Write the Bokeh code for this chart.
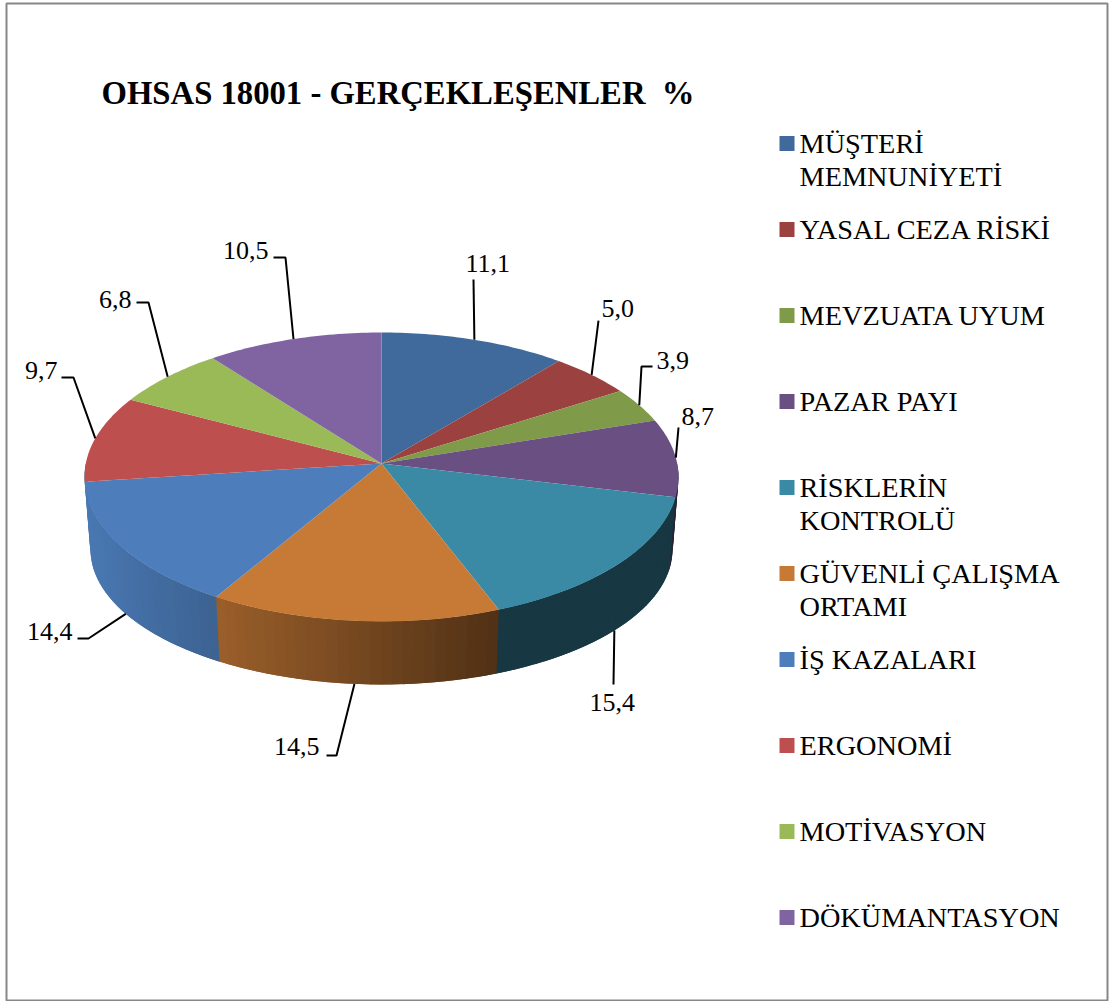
import math
from bokeh.plotting import figure
from bokeh.models import Range1d
from bokeh.core.properties import value
from bokeh.embed import file_html
from bokeh.resources import INLINE

# ---- data ----
title_text = "OHSAS 18001 - GERÇEKLEŞENLER\u00a0 %"
categories = ["MÜŞTERİ\nMEMNUNİYETİ", "YASAL CEZA RİSKİ", "MEVZUATA UYUM", "PAZAR PAYI",
              "RİSKLERİN\nKONTROLÜ", "GÜVENLİ ÇALIŞMA\nORTAMI", "İŞ KAZALARI",
              "ERGONOMİ", "MOTİVASYON", "DÖKÜMANTASYON"]
values = [11.1, 5.0, 3.9, 8.7, 15.4, 14.5, 14.4, 9.7, 6.8, 10.5]
colors = ["#3f6a9b", "#9b413f", "#7f9a49", "#6a4f82", "#3a8aa6",
          "#c77a36", "#4d7ebb", "#bd504e", "#9aba58", "#8064a2"]

# ---- layout ----
FONT = "Liberation Serif"
W, H = 1111, 1001
AX, AY = 381.0, 463.0     # apex of the top face
RA, RB, K = 295.7, 143.2, 0.0934
BA, BY, BB = 0.98 * RA, 536.4, 133.8
FRONT = {4, 5, 6}         # leaders that start on the lower rim
LAST_FRONT = 6            # this wall runs on to the left silhouette
# leader points after the anchor, label position, label alignment
leaders = [
    ([(473, 279)], (465, 263), "left"),
    ([(598, 320)], (601, 308), "left"),
    ([(641, 366), (652, 366)], (656, 360), "left"),
    ([(678, 427)], (681, 416), "left"),
    ([(613, 684)], (589, 702), "left"),
    ([(336, 755), (326, 755)], (319, 746), "right"),
    ([(88, 638), (77, 638)], (72, 631), "right"),
    ([(73, 377), (61, 377)], (57, 370), "right"),
    ([(148, 302), (136, 302)], (131, 299), "right"),
    ([(285, 257), (273, 257)], (268, 250), "right"),
]
LEG_X, LEG_Y, LEG_STEP, LEG_LINE = 779, 143, 86, 33
SWATCH = 15


def top_pt(t):
    s = 1 / (1 + K * math.cos(t))
    return AX + RA * math.sin(t) * s, AY - RB * math.cos(t) * s


def low_pt(t):
    s = 1 / (1 + K * math.cos(t))
    return AX + BA * math.sin(t) * s, BY - BB * math.cos(t) * s


def shade(hexcol, x):
    f = max(0.4, min(1.0, 0.95 - (x - 85) * 0.00133))
    rgb = [int(hexcol[i:i + 2], 16) for i in (1, 3, 5)]
    return "#%02x%02x%02x" % tuple(int(round(c * f)) for c in rgb)


total = sum(values)
edges = [0.0]
for v in values:
    edges.append(edges[-1] + v / total * 2 * math.pi)

p = figure(width=W, height=H, output_backend="svg", toolbar_location=None,
           x_range=Range1d(0, W), y_range=Range1d(H, 0),
           min_border=0, outline_line_color=None, background_fill_color="white")
p.xaxis.visible = False
p.yaxis.visible = False
p.grid.visible = False

# outer frame
p.quad(left=[6], right=[1107], top=[3], bottom=[1000], fill_color=None,
       line_color="#878787", line_width=2)

# side wall in vertical strips, each painted over the tail of the one before
sx, sy, sc = [], [], []
STEP = math.radians(2)
for i, col in enumerate(colors):
    a, b = edges[i], edges[i + 1]
    lo = max(a, math.pi / 2)
    hi = 3 * math.pi / 2 if i == LAST_FRONT else min(b, 3 * math.pi / 2)
    if hi <= lo or i > LAST_FRONT:
        continue
    n = max(1, int(math.ceil((hi - lo) / STEP)))
    for j in range(n):
        t0 = lo + (hi - lo) * j / n
        t1 = lo + (hi - lo) * (j + 1) / n
        t2 = min(t1 + STEP, 3 * math.pi / 2)
        p0, p1, q1, q0 = top_pt(t0), top_pt(t2), low_pt(t2), low_pt(t0)
        sx.append([p0[0], p1[0], q1[0], q0[0]])
        sy.append([p0[1], p1[1], q1[1], q0[1]])
        sc.append(shade(col, (top_pt(t0)[0] + top_pt(t1)[0]) / 2))
p.patches(sx, sy, fill_color=sc, line_color=None)

# top face
tx, ty = [], []
for i in range(len(values)):
    a, b = edges[i], edges[i + 1]
    n = max(2, int((b - a) / math.radians(1)))
    pts = [top_pt(a + (b - a) * j / n) for j in range(n + 1)]
    tx.append([AX] + [q[0] for q in pts])
    ty.append([AY] + [q[1] for q in pts])
p.patches(tx, ty, fill_color=colors, line_color=None)

# leaders and data labels
for i, (pts, pos, align) in enumerate(leaders):
    mid = (edges[i] + edges[i + 1]) / 2
    anchor = low_pt(mid) if i in FRONT else top_pt(mid)
    p.line([anchor[0]] + [q[0] for q in pts], [anchor[1]] + [q[1] for q in pts],
           line_color="black", line_width=2)
    p.text([pos[0]], [pos[1]], text=[f"{values[i]:.1f}".replace(".", ",")],
           text_font=value(FONT), text_font_size="26px", text_color="black",
           text_align=align, text_baseline="middle")

# title
p.text([101], [92], text=[title_text], text_font=value(FONT), text_font_size="32.7px",
       text_font_style="bold", text_color="black", text_baseline="middle")

# legend
for i, (cat, col) in enumerate(zip(categories, colors)):
    y = LEG_Y + LEG_STEP * i
    p.quad(left=[LEG_X], right=[LEG_X + SWATCH], top=[y - SWATCH / 2], bottom=[y + SWATCH / 2],
           fill_color=col, line_color=None)
    for k, line in enumerate(cat.split("\n")):
        p.text([799], [y + k * LEG_LINE], text=[line], text_font=value(FONT),
               text_font_size="28.3px", text_color="black", text_baseline="middle")

open("out.html", "w").write(file_html(p, INLINE))
